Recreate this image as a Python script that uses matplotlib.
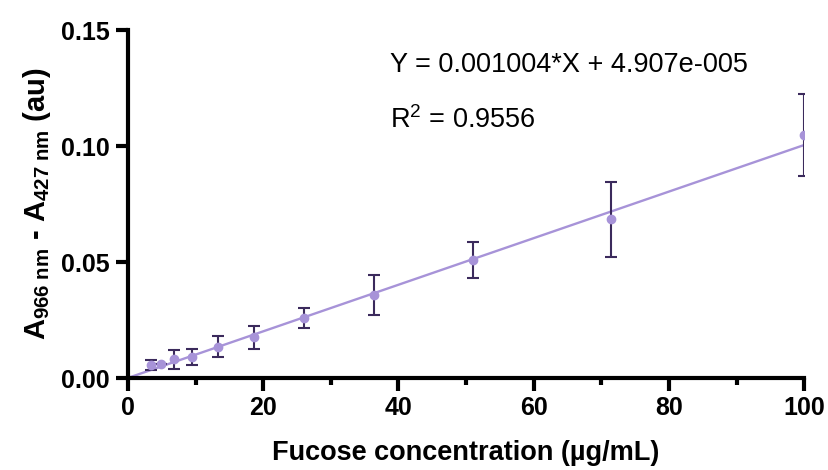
import matplotlib
matplotlib.use("Agg")
import matplotlib.pyplot as plt
import numpy as np
from matplotlib.ticker import MultipleLocator

plt.rcParams['font.family'] = ['Liberation Sans', 'DejaVu Sans']
plt.rcParams['mathtext.fontset'] = 'custom'
plt.rcParams['mathtext.rm'] = 'Liberation Sans'
plt.rcParams['mathtext.it'] = 'Liberation Sans:italic'
plt.rcParams['mathtext.bf'] = 'Liberation Sans:bold'

# fucose standards (ug/mL), mean signal and SD
conc = [3.47, 4.86, 6.8, 9.5, 13.3, 18.6, 26.0, 36.4, 51.0, 71.4, 100.0]
signal = [0.0056, 0.0060, 0.0080, 0.0089, 0.0135, 0.0175, 0.0259, 0.0358, 0.0509, 0.0684, 0.1046]
sd = [0.0022, 0.0, 0.0040, 0.0034, 0.0046, 0.0050, 0.0045, 0.0088, 0.0078, 0.0163, 0.0177]

slope = 0.001004
intercept = 4.907e-5

pt_col = '#a793d8'
err_col = '#3b2a5c'

fig = plt.figure(figsize=(8.29, 4.70), dpi=100)
ax = fig.add_axes([0.1544, 0.1957, 0.8156, 0.7403])

xfit = np.array([0, 100])
ax.plot(xfit, slope * xfit + intercept, color=pt_col, lw=1.7, zorder=2)
ax.errorbar(conc, signal, yerr=sd, fmt='none', ecolor=err_col, elinewidth=1.5,
            capsize=4, capthick=1.5, zorder=3)
ax.plot(conc, signal, 'o', color=pt_col, ms=6, zorder=4)

ax.set_xlim(0, 100)
ax.set_ylim(0, 0.15)
ax.xaxis.set_major_locator(MultipleLocator(20))
ax.xaxis.set_minor_locator(MultipleLocator(10))
ax.yaxis.set_major_locator(MultipleLocator(0.05))
ax.yaxis.set_major_formatter(matplotlib.ticker.FormatStrFormatter('%.2f'))

for s in ['top', 'right']:
    ax.spines[s].set_visible(False)
for s in ['left', 'bottom']:
    ax.spines[s].set_linewidth(3)
ax.tick_params(which='major', width=3, length=9, labelsize=18, pad=4)
ax.tick_params(which='minor', width=3, length=5)
for lab in ax.get_xticklabels() + ax.get_yticklabels():
    lab.set_fontweight('bold')

ax.set_xlabel('Fucose concentration (µg/mL)', fontsize=19.5, fontweight='bold', labelpad=14)
ax.set_ylabel(r'$\mathbf{A_{966\ nm}}$ - $\mathbf{A_{427\ nm}}$ (au)', fontsize=21,
              fontweight='bold', labelpad=6)

ax.text(0.388, 0.90, 'Y = 0.001004*X + 4.907e-005', transform=ax.transAxes,
        fontsize=19.5, va='center')
ax.text(0.388, 0.741, r'R$^2$ = 0.9556', transform=ax.transAxes,
        fontsize=19.5, va='center')

fig.savefig('out.png', dpi=100)
